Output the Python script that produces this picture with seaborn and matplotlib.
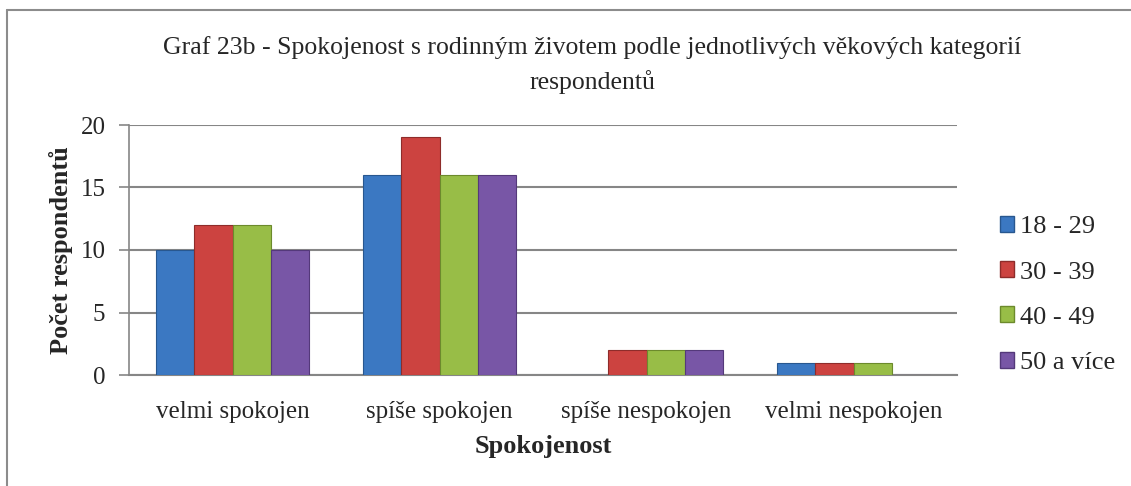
import matplotlib
matplotlib.use("Agg")
import matplotlib.pyplot as plt
import seaborn as sns
import pandas as pd
from matplotlib.lines import Line2D

categories = ["velmi spokojen", "spíše spokojen", "spíše nespokojen", "velmi nespokojen"]
age_groups = ["18 - 29", "30 - 39", "40 - 49", "50 a více"]
vals_18_29 = [10, 16, 0, 1]
vals_30_39 = [12, 19, 2, 1]
vals_40_49 = [12, 16, 2, 1]
vals_50 = [10, 16, 2, 0]
yticks = [0, 5, 10, 15, 20]

rows = []
for grp, vals in zip(age_groups, [vals_18_29, vals_30_39, vals_40_49, vals_50]):
    for c, v in zip(categories, vals):
        rows.append({"Spokojenost": c, "Věk": grp, "Počet": v})
df = pd.DataFrame(rows)

sns.set_theme(style="white")
plt.rcParams['font.family'] = ['Liberation Serif', 'DejaVu Serif']

colors = ["#3B78C2", "#CC4340", "#98BD47", "#7856A6"]
edges = ["#28578F", "#8E2C2A", "#6C8A2C", "#54397A"]

fig = plt.figure(figsize=(11.31, 4.86), dpi=100)
ax = fig.add_axes([129/1131, 1-375/486, (957-129)/1131, 250/486])

sns.barplot(data=df, x="Spokojenost", y="Počet", hue="Věk", order=categories,
            hue_order=age_groups, palette=colors, width=0.735, ax=ax,
            saturation=1, errorbar=None, legend=True, zorder=3)

for cont, ec in zip(ax.containers, edges):
    for p in cont.patches:
        p.set_edgecolor(ec)
        p.set_linewidth(0.8)

ax.set_ylim(0, 20)
ax.set_xlim(-0.5, 3.5)
ax.set_yticks(yticks)
ax.set_yticklabels([str(t) for t in yticks], fontsize=18)
ax.tick_params(axis='x', labelsize=18, length=0, pad=19)
ax.tick_params(axis='y', left=True, length=7, width=1.2, color="#868686", pad=10)
ax.grid(axis='y', color="#868686", linewidth=1.5, zorder=0)
for s in ["top", "right"]:
    ax.spines[s].set_visible(False)
ax.spines["left"].set_color("#868686")
ax.spines["left"].set_linewidth(1.2)
ax.spines["bottom"].set_color("#868686")
ax.spines["bottom"].set_linewidth(1.5)

ax.set_xlabel("Spokojenost", fontsize=19, fontweight="bold", labelpad=8)
ax.set_ylabel("Počet respondentů", fontsize=19, fontweight="bold", labelpad=5)

fig.text(592/1131, 1-48/486, "Graf 23b - Spokojenost s rodinným životem podle jednotlivých věkových kategorií",
         ha="center", va="center", fontsize=18.5)
fig.text(592/1131, 1-82/486, "respondentů", ha="center", va="center", fontsize=18.5)

leg = ax.legend(loc="center left", frameon=False,
                fontsize=19, handlelength=0.55, handleheight=0.55, handletextpad=0.2,
                labelspacing=0.87)
leg.set_bbox_to_anchor((976/1131, 1-295/486), transform=fig.transFigure)
for h, ec in zip(leg.legend_handles, edges):
    h.set_edgecolor(ec)

fig.add_artist(Line2D([7/1131, 7/1131], [0, 1-10/486], transform=fig.transFigure,
                      color="#8c8c8c", linewidth=1.5))
fig.add_artist(Line2D([7/1131, 1], [1-10/486, 1-10/486], transform=fig.transFigure,
                      color="#8c8c8c", linewidth=1.5))

fig.savefig("out.png", dpi=100)
